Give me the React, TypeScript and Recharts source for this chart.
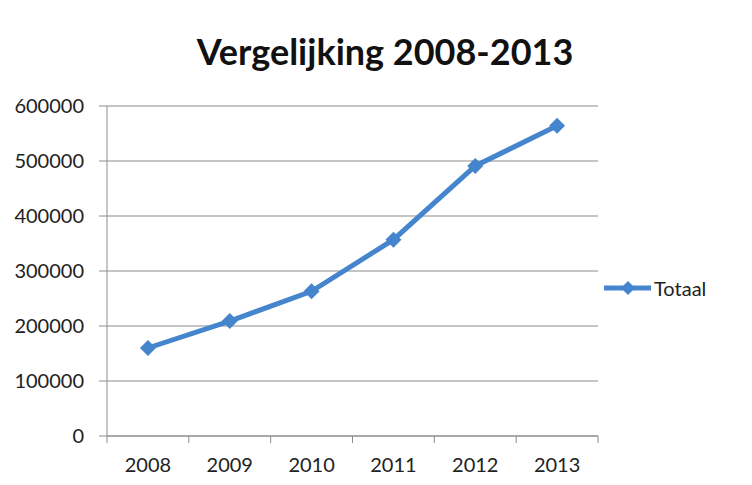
import React from 'react';
import { LineChart, Line, XAxis, YAxis, CartesianGrid, Legend } from 'recharts';

const years = ['2008', '2009', '2010', '2011', '2012', '2013'];
const totaal = [160000, 209000, 263000, 357000, 491000, 564000];
const yTicks = [0, 100000, 200000, 300000, 400000, 500000, 600000];

const data = years.map((year, i) => ({ year, Totaal: totaal[i] }));

const BLUE = '#4585cd';
const GRID = '#8c8c8c';
const FONT = 'Lato, "Open Sans", sans-serif';
const PLOT_LEFT = 107;
const PLOT_RIGHT = 598;
const BAND = (PLOT_RIGHT - PLOT_LEFT) / years.length;

const Diamond = (props: any) => {
  const { cx, cy } = props;
  const r = 8;
  return (
    <path
      d={`M${cx},${cy - r} L${cx + r},${cy} L${cx},${cy + r} L${cx - r},${cy} Z`}
      fill={BLUE}
    />
  );
};

// tick marks sit on category boundaries, labels in the middle
const XTick = (props: any) => {
  const { x, y, payload, index } = props;
  const left = x - BAND / 2;
  return (
    <g>
      <line x1={left} x2={left} y1={y} y2={y + 7} stroke={GRID} />
      {index === years.length - 1 && (
        <line x1={x + BAND / 2} x2={x + BAND / 2} y1={y} y2={y + 7} stroke={GRID} />
      )}
      <text x={x} y={y + 36} textAnchor="middle" fontSize={20} fill="#222" fontFamily={FONT}>
        {payload.value}
      </text>
    </g>
  );
};

const LegendContent = () => (
  <div style={{ display: 'flex', alignItems: 'center', fontFamily: FONT, fontSize: 20, color: '#222' }}>
    <svg width={50} height={20}>
      <line x1={0} x2={47} y1={10} y2={10} stroke={BLUE} strokeWidth={5} />
      <path d="M24,3 L31,10 L24,17 L17,10 Z" fill={BLUE} />
    </svg>
    <span>Totaal</span>
  </div>
);

export default function App() {
  return (
    <div style={{ position: 'absolute', left: 0, top: 0, width: 752, height: 485, background: '#fff' }}>
      <div
        style={{
          position: 'absolute',
          top: 29,
          left: 0,
          width: 752,
          paddingLeft: 18,
          boxSizing: 'border-box',
          textAlign: 'center',
          fontFamily: FONT,
          fontWeight: 700,
          fontSize: 36,
          color: '#111',
        }}
      >
        Vergelijking 2008-2013
      </div>
      <LineChart
        width={752}
        height={485}
        data={data}
        margin={{ top: 106, right: 752 - PLOT_RIGHT, bottom: 9, left: 0 }}
      >
        <CartesianGrid horizontal vertical={false} stroke={GRID} strokeWidth={1.2} />
        <XAxis
          dataKey="year"
          height={40}
          stroke={GRID}
          tickLine={false}
          tickSize={0}
          tickMargin={0}
          interval={0}
          padding={{ left: BAND / 2, right: BAND / 2 }}
          tick={<XTick />}
        />
        <YAxis
          width={PLOT_LEFT}
          domain={[0, 600000]}
          ticks={yTicks}
          stroke={GRID}
          tickSize={8}
          tickMargin={15}
          tick={{ fontSize: 20, fill: '#222', fontFamily: FONT }}
        />
        <Legend
          layout="horizontal"
          verticalAlign="middle"
          content={<LegendContent />}
          wrapperStyle={{ left: 604, top: 276, width: 'auto' }}
        />
        <Line
          type="linear"
          dataKey="Totaal"
          stroke={BLUE}
          strokeWidth={5}
          dot={<Diamond />}
          activeDot={false}
          isAnimationActive={false}
        />
      </LineChart>
    </div>
  );
}
